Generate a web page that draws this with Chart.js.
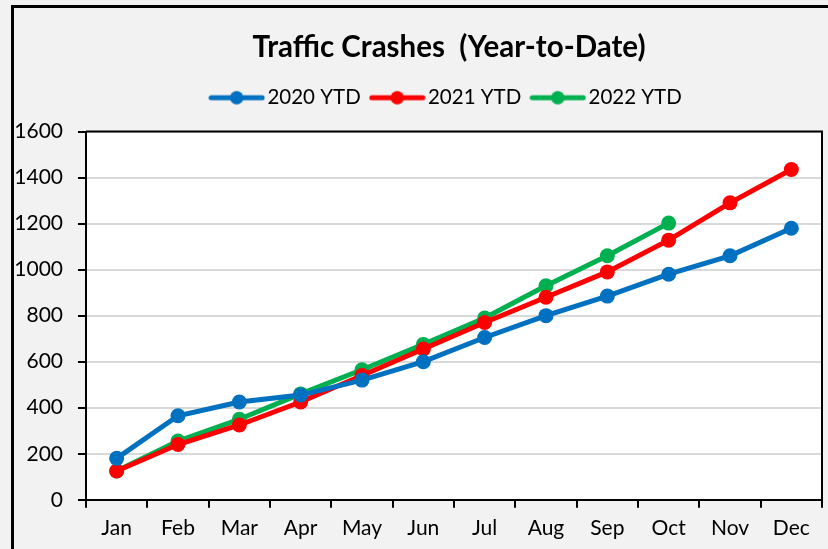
<html>
<head>
<script src="https://cdn.jsdelivr.net/npm/chart.js"></script>
<style>
body { margin:0; background:#f2f2f2; overflow:hidden }
#frame { position:absolute; left:11px; top:5px; width:900px; height:600px; border-left:3px solid #000; border-top:3px solid #000 }
#wrap { position:absolute; left:0; top:0; width:898px; height:549px }
</style>
</head>
<body>
<div id="frame"></div>
<div id="wrap"><canvas id="myChart"></canvas></div>

<script>
months = ['Jan','Feb','Mar','Apr','May','Jun','Jul','Aug','Sep','Oct','Nov','Dec']
ytd2020 = [180, 365, 425, 455, 520, 600, 705, 800, 885, 980, 1060, 1180]
ytd2021 = [125, 240, 325, 425, 540, 655, 770, 880, 990, 1128, 1290, 1435]
ytd2022 = [125, 255, 350, 460, 565, 675, 790, 930, 1060, 1202]
seriesNames = ['2020 YTD', '2021 YTD', '2022 YTD']
colors = ['#0070c0', '#ff0000', '#00b050']
yTicks = [0, 200, 400, 600, 800, 1000, 1200, 1400, 1600]

font = 'Lato'

// line-with-dot picture for the legend
function legendMark(c) {
  const cv = document.createElement('canvas')
  cv.width = 57; cv.height = 16
  const g = cv.getContext('2d')
  g.strokeStyle = c; g.lineWidth = 5; g.lineCap = 'round'
  g.beginPath(); g.moveTo(3, 8); g.lineTo(54, 8); g.stroke()
  g.fillStyle = c
  g.beginPath(); g.arc(28.5, 8, 6.7, 0, Math.PI*2); g.fill()
  return cv
}

const plotFrame = {
  id: 'plotFrame',
  beforeDraw(chart) {
    const a = chart.chartArea, ctx = chart.ctx
    ctx.save(); ctx.fillStyle = '#fff'
    ctx.fillRect(a.left, a.top, a.right - a.left, a.bottom - a.top)
    ctx.restore()
  },
  afterDraw(chart) {
    const a = chart.chartArea, ctx = chart.ctx
    ctx.save(); ctx.strokeStyle = '#000'; ctx.lineWidth = 2
    ctx.beginPath()
    ctx.moveTo(a.left, a.top); ctx.lineTo(a.right, a.top); ctx.lineTo(a.right, a.bottom)
    ctx.stroke(); ctx.restore()
  }
}

// extra room under the legend
const legendGap = {
  id: 'legendGap',
  beforeLayout(chart) {
    const lg = chart.legend
    if (lg && !lg._gap) {
      lg._gap = true
      const fit = lg.fit
      lg.fit = function() { fit.call(this); this.height += 13.5 }
    }
  }
}

function ds(i, data) {
  return {
    label: seriesNames[i], data: data,
    borderColor: colors[i], backgroundColor: colors[i],
    borderWidth: 5, pointRadius: 7.5, pointHoverRadius: 7.5,
    pointBorderWidth: 0, tension: 0,
    pointStyle: 'circle'
  }
}

new Chart(document.getElementById('myChart'), {
  type: 'line',
  data: {
    labels: months,
    datasets: [ds(0, ytd2020), ds(1, ytd2021), ds(2, ytd2022)]
  },
  options: {
    responsive: true, maintainAspectRatio: false, animation: false,
    layout: { padding: { left: 14, right: 14, top: 10, bottom: 0 } },
    plugins: {
      title: {
        display: true, text: 'Traffic Crashes  (Year-to-Date)', color: '#000',
        font: { family: font, size: 29.5, weight: 'bold' },
        padding: { top: 20, bottom: 6.1 }
      },
      legend: {
        labels: {
          color: '#000', font: { family: font, size: 20.5 },
          usePointStyle: true, pointStyleWidth: 41, padding: 16,
          generateLabels(chart) {
            return chart.data.datasets.map((d, i) => ({
              text: d.label, pointStyle: legendMark(colors[i]),
              fillStyle: colors[i], strokeStyle: colors[i], lineWidth: 0,
              fontColor: '#000', datasetIndex: i, hidden: false
            }))
          }
        }
      },
      tooltip: { enabled: false }
    },
    scales: {
      x: {
        offset: true,
        grid: { offset: true, drawOnChartArea: false, drawTicks: true, tickLength: 8, tickColor: '#000', lineWidth: 2 },
        border: { color: '#000', width: 2 },
        ticks: { color: '#000', font: { family: font, size: 21 }, padding: 8, maxRotation: 0 }
      },
      y: {
        min: 0, max: 1600,
        afterBuildTicks(s) { s.ticks = yTicks.map(v => ({ value: v })) },
        afterFit(s) { s.width = 72 },
        grid: { color: '#d9d9d9', lineWidth: 2, tickLength: 8, tickColor: '#000' },
        border: { color: '#000', width: 2 },
        ticks: { color: '#000', font: { family: font, size: 21 }, padding: 15, callback: v => String(v) }
      },
      // empty strip on the right so the title sits where the reference has it
      yRight: {
        position: 'right', min: 0, max: 1600,
        grid: { display: false }, border: { display: false }, ticks: { display: false },
        afterFit(s) { s.width = 62 }
      }
    }
  },
  plugins: [plotFrame, legendGap]
})
</script>
</body>
</html>
